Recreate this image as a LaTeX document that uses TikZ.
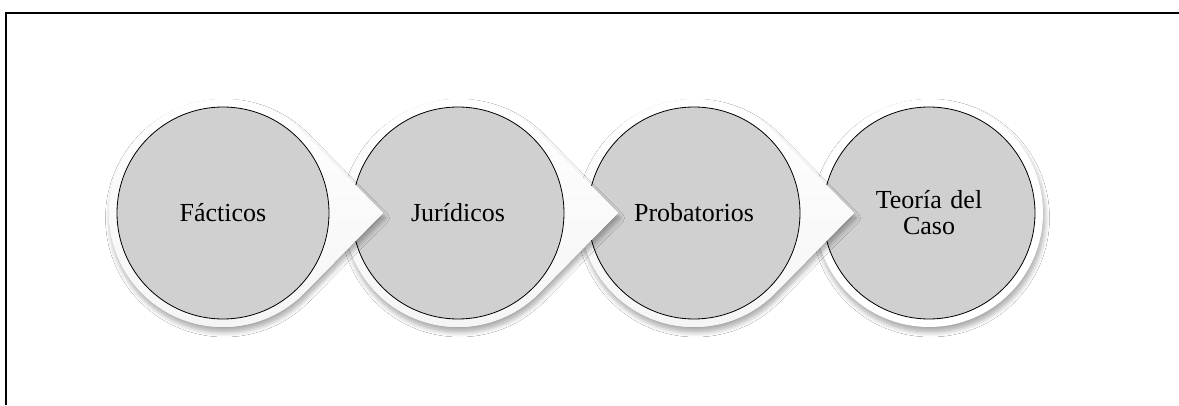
\documentclass[tikz,border=0pt]{standalone}
\usepackage{fontspec}
\setmainfont{Liberation Serif}
\usetikzlibrary{shadows.blur,calc}
\tikzset{
  stagebg/.style={fill=white, draw=none,
    blur shadow={shadow xshift=1.5pt, shadow yshift=-5pt, shadow blur radius=5pt, shadow blur steps=8, shadow opacity=35}},
  stagecircle/.style={circle, minimum size=212pt, inner sep=0pt, fill=gray!37, draw=black, line width=0.8pt,
    font=\fontsize{26}{26}\selectfont, align=center, text width=150pt},
  framerule/.style={line width=2.6pt, black},
}
\newcommand{\teardrop}[1]{% center name
  \path[stagebg] ($(#1)+(160pt,0)$) -- ($(#1)+(44:114pt)$) arc[start angle=44, end angle=316, radius=114pt] -- cycle;
  \path[top color=white, bottom color=gray!8, draw=none] ($(#1)+(160pt,0)$) -- ($(#1)+(44:114pt)$) arc[start angle=44, end angle=316, radius=114pt] -- cycle;
}
\begin{document}
\begin{tikzpicture}[x=1pt,y=1pt]
\useasboundingbox (0,0) rectangle (1179,405);
\fill[white] (0,0) rectangle (1179,405);
\coordinate (c1) at (223,192);
\coordinate (c2) at (458,192);
\coordinate (c3) at (694,192);
\coordinate (c4) at (929,192);
% frame (top and left edges)
\coordinate (fa) at (6,0);
\coordinate (fb) at (6,392);
\coordinate (fc) at (1179,392);
\draw[framerule] (fa) -- (fb) -- (fc);
% stage 4 (no pointer)
\path[stagebg] (c4) circle[radius=114pt];
\node[stagecircle] (n4) at (c4) {Teoría del\\Caso};
% stage 3
\teardrop{c3}
\node[stagecircle] (n3) at (c3) {Probatorios};
% stage 2
\teardrop{c2}
\node[stagecircle] (n2) at (c2) {Jurídicos};
% stage 1
\teardrop{c1}
\node[stagecircle] (n1) at (c1) {Fácticos};
\end{tikzpicture}
\end{document}
